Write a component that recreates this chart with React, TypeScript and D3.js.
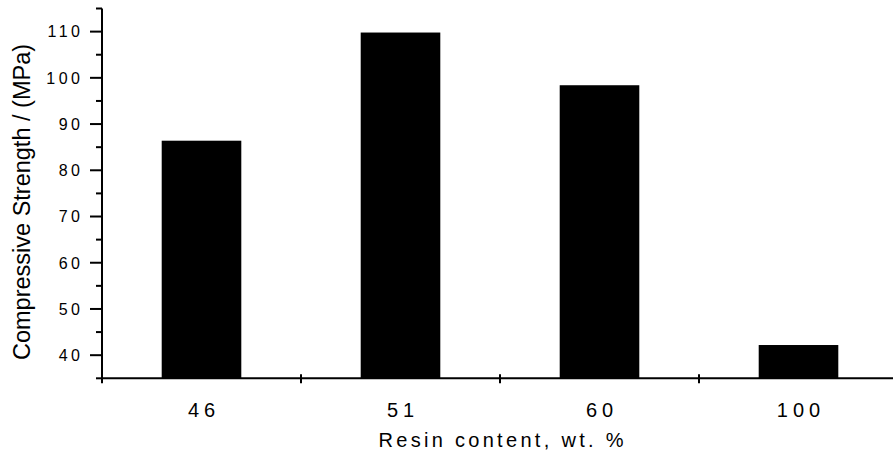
import React from "react";
import * as d3 from "d3";

const categories = ["46", "51", "60", "100"];
const strength = [86.4, 109.8, 98.4, 42.2];
const majorTicks = [40, 50, 60, 70, 80, 90, 100, 110];
const minorTicks = [35, 45, 55, 65, 75, 85, 95, 105, 115];
const yTitle = "Compressive Strength / (MPa)";
const xTitle = "Resin content, wt. %";

const W = 893;
const H = 453;
const left = 102;
const bottom = 378.3;
const top = 8.5;

export default function App() {
  const x = d3
    .scaleBand<string>()
    .domain(categories)
    .range([left, 898])
    .paddingInner(0.6)
    .paddingOuter(0.3);
  const y = d3.scaleLinear().domain([35, 115]).range([bottom, top]);
  const step = x.step();
  const gap = (step - x.bandwidth()) / 2;
  const boundaries = categories.map((c) => (x(c) as number) - gap);
  const font = "Arial, 'Liberation Sans', Helvetica, sans-serif";
  const xLs = 5;
  const yLs = 3.5;
  const tLs = 3.3;

  return (
    <svg
      width={W}
      height={H}
      style={{ position: "absolute", left: 0, top: 0, background: "#fff" }}
      fontFamily={font}
    >
      <rect x={0} y={0} width={W} height={H} fill="#fff" />
      {categories.map((c, i) => (
        <rect
          key={c}
          x={x(c)}
          y={y(strength[i])}
          width={x.bandwidth()}
          height={bottom - y(strength[i])}
          fill="#000"
        />
      ))}
      {/* y axis */}
      <line x1={left} x2={left} y1={y(115)} y2={bottom + 1} stroke="#000" strokeWidth={2} />
      {majorTicks.map((t) => (
        <g key={"M" + t}>
          <line x1={left - 12} x2={left} y1={y(t)} y2={y(t)} stroke="#000" strokeWidth={2} />
          <text
            x={80 + yLs}
            y={y(t) + 5.8}
            textAnchor="end"
            fontSize={16}
            letterSpacing={yLs}
            fill="#000"
          >
            {t}
          </text>
        </g>
      ))}
      {minorTicks.map((t) => (
        <line key={"m" + t} x1={left - 6} x2={left} y1={y(t)} y2={y(t)} stroke="#000" strokeWidth={2} />
      ))}
      {/* x axis */}
      <line x1={left} x2={W} y1={bottom} y2={bottom} stroke="#000" strokeWidth={2} />
      {boundaries.map((b, i) => (
        <line key={"xt" + i} x1={b} x2={b} y1={bottom - 4} y2={bottom + 5} stroke="#000" strokeWidth={2} />
      ))}
      {categories.map((c) => (
        <text
          key={"xl" + c}
          x={(x(c) as number) + x.bandwidth() / 2 + xLs / 2}
          y={417}
          textAnchor="middle"
          fontSize={20}
          letterSpacing={xLs}
          fill="#000"
        >
          {c}
        </text>
      ))}
      <text
        x={501 + tLs / 2}
        y={447}
        textAnchor="middle"
        fontSize={20}
        letterSpacing={tLs}
        fill="#000"
      >
        {xTitle}
      </text>
      <text
        transform={`translate(30, 202) rotate(-90)`}
        textAnchor="middle"
        fontSize={23.5}
        fill="#000"
      >
        {yTitle}
      </text>
    </svg>
  );
}
